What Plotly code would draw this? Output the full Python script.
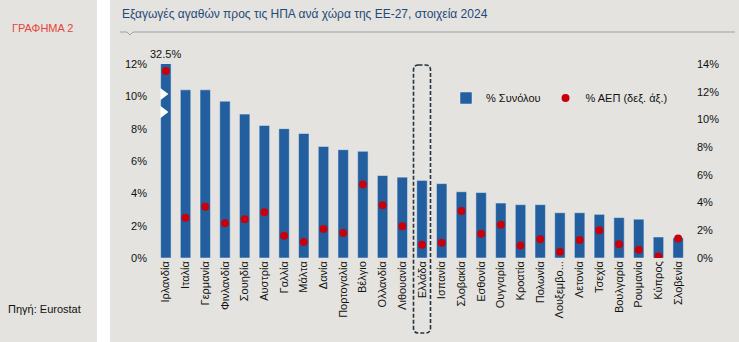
import plotly.graph_objects as go

countries = ["Ιρλανδία", "Ιταλία", "Γερμανία", "Φινλανδία", "Σουηδία", "Αυστρία", "Γαλλία",
             "Μάλτα", "Δανία", "Πορτογαλία", "Βέλγιο", "Ολλανδία", "Λιθουανία", "Ελλάδα",
             "Ισπανία", "Σλοβακία", "Εσθονία", "Ουγγαρία", "Κροατία", "Πολωνία", "Λουξεμβο...",
             "Λετονία", "Τσεχία", "Βουλγαρία", "Ρουμανία", "Κύπρος", "Σλοβενία"]
share_total = [32.5, 10.4, 10.4, 9.7, 8.9, 8.2, 8.0, 7.7, 6.9, 6.7, 6.6, 5.1, 5.0, 4.8,
               4.6, 4.1, 4.05, 3.4, 3.3, 3.3, 2.8, 2.8, 2.7, 2.5, 2.4, 1.3, 1.25]
share_gdp = [13.5, 2.9, 3.7, 2.5, 2.8, 3.3, 1.6, 1.15, 2.1, 1.8, 5.3, 3.8, 2.3, 0.95,
             1.1, 3.4, 1.75, 2.4, 0.9, 1.35, 0.45, 1.3, 2.0, 1.0, 0.6, 0.1, 1.4]
left_ticks = [0, 2, 4, 6, 8, 10, 12]
right_ticks = [0, 2, 4, 6, 8, 10, 12, 14]
left_labels = [f"{v}%" for v in left_ticks]
right_labels = [f"{v}%" for v in right_ticks]
highlight = "Ελλάδα"

W, H = 739, 342
ML, MR, MT, MB = 156, 51, 64, 84
PW, PH = W - ML - MR, H - MT - MB
BG = "#e4e3df"
BLUE = "#235f9e"
RED = "#c8000a"
FONT = "Liberation Sans, Arial, sans-serif"

def px_x(p):
    return (p - ML) / PW

def px_y(p):
    return (H - MB - p) / PH

fig = go.Figure()
fig.add_trace(go.Bar(x=countries, y=share_total, name="% Συνόλου", marker_color=BLUE,
                     width=0.53, yaxis="y"))
fig.add_trace(go.Scatter(x=countries, y=share_gdp, name="% ΑΕΠ (δεξ. άξ.)", mode="markers",
                         marker=dict(color=RED, size=8), yaxis="y2"))

shapes = []
# white separator strip between panels
shapes.append(dict(type="rect", xref="paper", yref="paper", x0=px_x(97), x1=px_x(110),
                   y0=px_y(H + 2), y1=px_y(-2), fillcolor="white", line_width=0, layer="below"))
# title underline with small notch
shapes.append(dict(type="path", xref="paper", yref="paper",
                   path=f"M{px_x(120)},{px_y(32)} L{px_x(127)},{px_y(32)} L{px_x(130)},{px_y(35)} "
                        f"L{px_x(133)},{px_y(32)} L{px_x(735)},{px_y(32)}",
                   line=dict(color="#9ca3a8", width=1)))
# axis break markers on the first bar
bw = 0.53
idx0 = 0
for yc in [10.14, 9.03]:
    shapes.append(dict(type="path", xref="x", yref="y",
                       path=f"M{idx0 - bw/2 - 0.02},{yc + 0.38} L{idx0 + 0.13},{yc} L{idx0 - bw/2 - 0.02},{yc - 0.38} Z",
                       fillcolor="white", line_width=0))
# dashed rounded box around highlighted country
hi = countries.index(highlight)
n = len(countries)
cx = (hi + 0.5) / n
hw = 8.5 / PW
x0, x1 = cx - hw, cx + hw
y0, y1 = px_y(333), px_y(65)
rx, ry = 5 / PW, 5 / PH
path = (f"M{x0 + rx},{y1} L{x1 - rx},{y1} Q{x1},{y1} {x1},{y1 - ry} "
        f"L{x1},{y0 + ry} Q{x1},{y0} {x1 - rx},{y0} L{x0 + rx},{y0} Q{x0},{y0} {x0},{y0 + ry} "
        f"L{x0},{y1 - ry} Q{x0},{y1} {x0 + rx},{y1} Z")
shapes.append(dict(type="path", xref="paper", yref="paper", path=path,
                   line=dict(color="#26323e", width=1.6, dash="4px,2px")))

annotations = [
    dict(text="Εξαγωγές αγαθών προς τις ΗΠΑ ανά χώρα της ΕΕ-27, στοιχεία 2024",
         xref="paper", yref="paper", x=px_x(120), y=px_y(14), xanchor="left", yanchor="middle",
         showarrow=False, font=dict(family=FONT, size=12, color="#1f4a78")),
    dict(text="ΓΡΑΦΗΜΑ 2", xref="paper", yref="paper", x=px_x(10), y=px_y(28),
         xanchor="left", yanchor="middle", showarrow=False,
         font=dict(family=FONT, size=11, color="#e5433a")),
    dict(text="Πηγή: Eurostat", xref="paper", yref="paper", x=px_x(6), y=px_y(309),
         xanchor="left", yanchor="middle", showarrow=False,
         font=dict(family=FONT, size=11, color="#111111")),
    dict(text=f"{share_total[0]}%", xref="x", yref="paper", x=countries[0], y=1,
         yshift=10, xanchor="center", yanchor="middle", showarrow=False,
         font=dict(family=FONT, size=11, color="#111111")),
]

fig.update_layout(
    width=W, height=H,
    margin=dict(l=ML, r=MR, t=MT, b=MB),
    paper_bgcolor=BG, plot_bgcolor=BG,
    showlegend=True,
    legend=dict(orientation="h", x=px_x(446), y=px_y(98), xanchor="left", yanchor="middle",
                bgcolor="rgba(0,0,0,0)", font=dict(family=FONT, size=11, color="#111111"),
                itemwidth=30, traceorder="normal"),
    bargap=0.47,
    xaxis=dict(type="category", tickangle=-90, showgrid=False, showline=False, ticks="",
               tickfont=dict(family=FONT, size=11, color="#111111"), range=[-0.5, n - 0.5],
               fixedrange=True),
    yaxis=dict(range=[0, 12], tickmode="array", tickvals=left_ticks, ticktext=left_labels,
               showgrid=False, zeroline=False, showline=False, ticks="", ticklabelstandoff=8,
               tickfont=dict(family=FONT, size=11, color="#111111")),
    yaxis2=dict(range=[0, 14], tickmode="array", tickvals=right_ticks, ticktext=right_labels,
                overlaying="y", side="right",
                showgrid=False, zeroline=False, showline=False, ticks="", ticklabelstandoff=8,
                tickfont=dict(family=FONT, size=11, color="#111111")),
    shapes=shapes,
    annotations=annotations,
)

fig.write_html("out.html")
